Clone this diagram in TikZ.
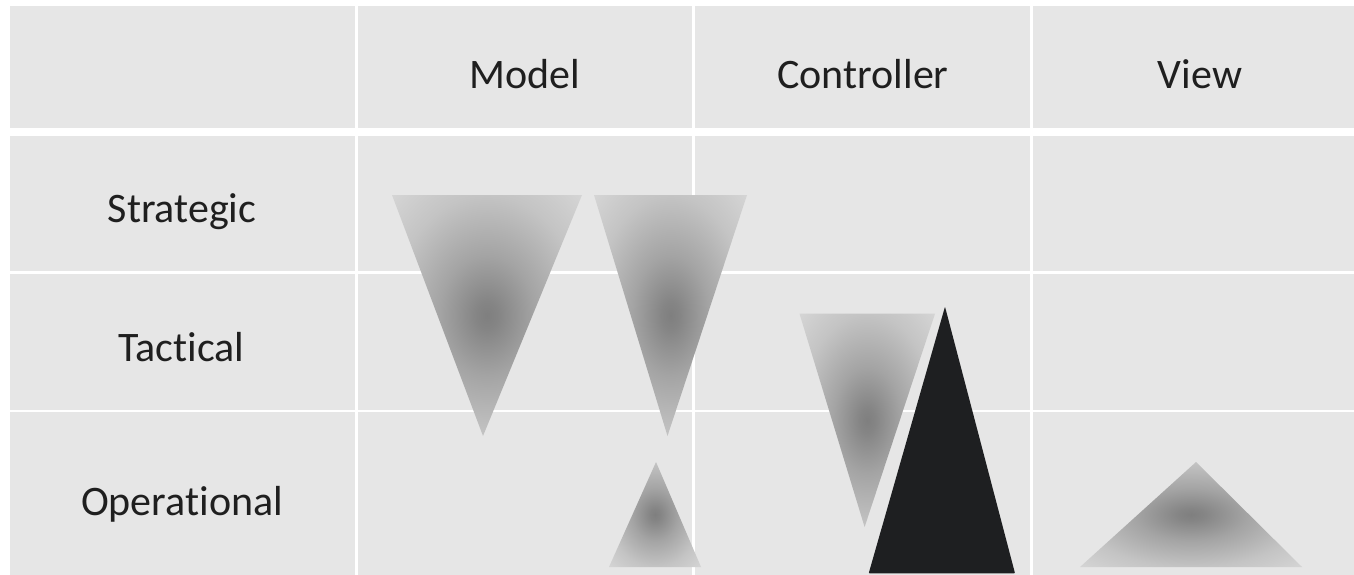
\documentclass[tikz,border=0pt]{standalone}
\usepackage{fontspec}
\setmainfont{Carlito}[Ligatures={NoCommon}]
\definecolor{cellbg}{HTML}{E6E6E6}
\definecolor{txt}{HTML}{1F1F1F}
\definecolor{blk}{HTML}{1E1F21}
\definecolor{gA}{HTML}{7F7F7F}
\definecolor{gA2}{HTML}{858585}
\definecolor{gB}{HTML}{A4A4A4}
\definecolor{gC}{HTML}{C4C4C4}
\definecolor{gD}{HTML}{D6D6D6}
\pgfdeclareradialshading{trishade}{\pgfpoint{0bp}{0bp}}{color(0bp)=(gA); color(3bp)=(gA2); color(12.5bp)=(gB); color(25bp)=(gC); color(36bp)=(gD); color(50bp)=(gD)}
\tikzset{
  lbl/.style={anchor=base, inner sep=0pt, text=txt, font=\fontsize{42}{50}\selectfont},
  gridline/.style={fill=white},
  tri/.style={shading=trishade},
}
\begin{document}
\begin{tikzpicture}[x=1pt,y=-1pt]
\useasboundingbox (0,0) rectangle (1354,575);
\fill[white] (0,0) rectangle (1354,575);
\fill[cellbg] (10,6) rectangle (1354,575);
% grid lines
\fill[gridline] (10,128) rectangle (1354,136);
\fill[gridline] (10,271.2) rectangle (1354,273.9);
\fill[gridline] (10,409.7) rectangle (1354,412.4);
\fill[gridline] (355.2,6) rectangle (357.9,575);
\fill[gridline] (692.4,6) rectangle (695.1,575);
\fill[gridline] (1030.3,6) rectangle (1033,575);
% triangles
\shade[tri] (392,195) -- (582,195) -- (483,436) -- cycle;
\shade[tri] (594,195) -- (747,195) -- (667.5,436) -- cycle;
\shade[tri] (656,462) -- (701,567) -- (609,567) -- cycle;
\shade[tri] (799.5,313.7) -- (935,313.7) -- (864.6,527) -- cycle;
\fill[blk, rounded corners=0.8pt] (945,306.7) -- (1015,573.3) -- (868.7,573.3) -- cycle;
\shade[tri] (1196,462) -- (1302,567) -- (1080,567) -- cycle;
% labels
\node[lbl] (model) at (525,88.5) {Model};
\node[lbl] (controller) at (863,88.5) {Controller};
\node[lbl] (view) at (1200,88.5) {View};
\node[lbl] (strategic) at (182,222.5) {Strategic};
\node[lbl] (tactical) at (181.6,361.5) {Tactical};
\node[lbl] (operational) at (182,515.5) {Operational};
\end{tikzpicture}
\end{document}
